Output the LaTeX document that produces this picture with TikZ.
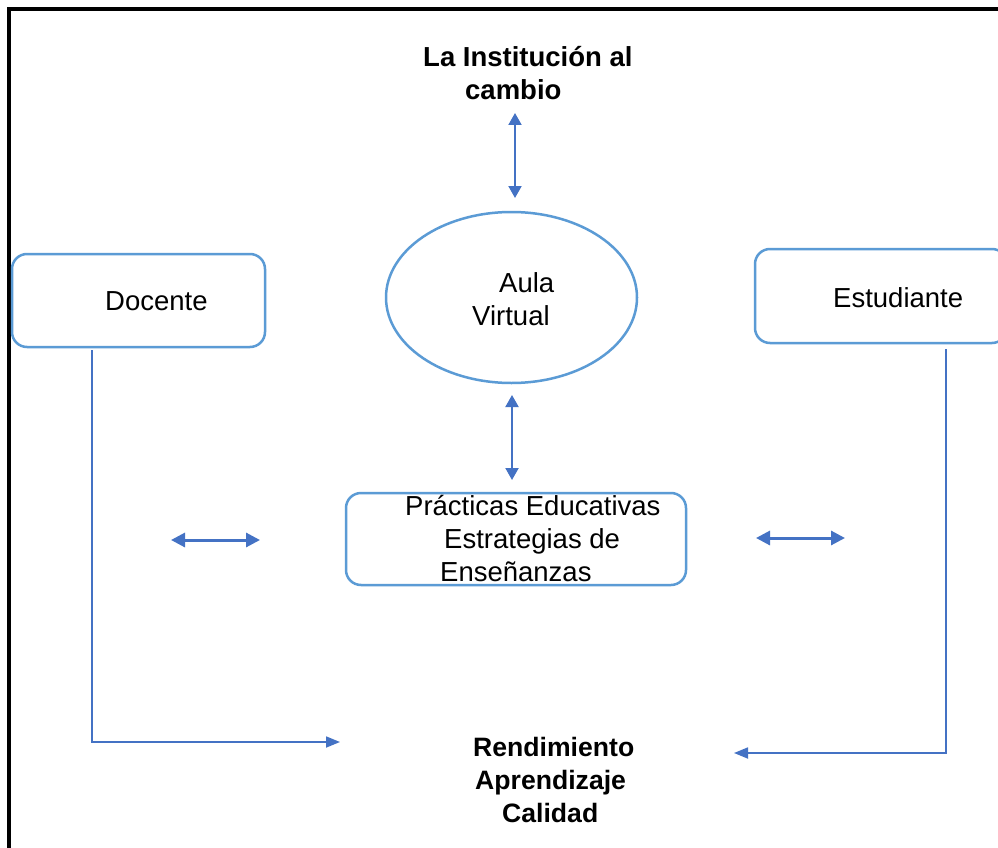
\documentclass[tikz,border=0pt]{standalone}
\usepackage{fontspec}
\setmainfont{Liberation Sans}
\usetikzlibrary{arrows.meta,shapes.geometric}
\definecolor{boxblue}{HTML}{5B9BD5}
\definecolor{arrblue}{HTML}{4472C4}
\begin{document}
\begin{tikzpicture}[x=1pt,y=-1pt,
  txt/.style={font=\fontsize{27.5}{33}\selectfont, inner sep=0pt, anchor=base west},
  btxt/.style={txt, font=\fontsize{27.5}{33}\selectfont\bfseries},
  roundbox/.style={draw=boxblue, line width=2.5pt, rounded corners=15pt, inner sep=0pt},
  dbl/.style={draw=arrblue, line width=3pt, {Triangle[length=14pt,width=14pt]}-{Triangle[length=14pt,width=14pt]}},
  vdbl/.style={draw=arrblue, line width=2pt, {Triangle[length=12pt,width=13pt]}-{Triangle[length=12pt,width=13pt]}},
  conn/.style={draw=arrblue, line width=1.8pt, -{Triangle[length=14pt,width=11pt]}}
]
\clip (0,0) rectangle (998,848);
\fill[white] (0,0) rectangle (998,848);
% frame
\draw[line width=3.6pt] (9,860) -- (9,9.3) -- (1005,9.3);
% boxes
\node[roundbox, minimum width=253pt, minimum height=93pt] (doc) at (138.5,300.5) {};
\node[roundbox, minimum width=252pt, minimum height=94pt] (est) at (881,296) {};
\node[draw=boxblue, line width=2.5pt, ellipse, inner sep=0pt, minimum width=251pt, minimum height=171pt] (aula) at (511.5,297.5) {};
\node[roundbox, minimum width=340pt, minimum height=92pt] (prac) at (516,539) {};
% texts
\node[txt] (doctxt) at (105,310) {Docente};
\node[txt] (esttxt) at (833,307) {Estudiante};
\node[txt] (aula1) at (499,292) {Aula};
\node[txt] (aula2) at (472,325) {Virtual};
\node[txt] (prac1) at (405,515) {Prácticas Educativas};
\node[txt] (prac2) at (444,548) {Estrategias de};
\node[txt] (prac3) at (440,581) {Enseñanzas};
\node[btxt] (inst1) at (423,66.7) {La Institución al};
\node[btxt] (inst2) at (465,99.3) {cambio};
\node[btxt, font=\fontsize{26.6}{33}\selectfont\bfseries] (rend1) at (473,756.7) {Rendimiento};
\node[btxt, font=\fontsize{26.6}{33}\selectfont\bfseries] (rend2) at (475,789.5) {Aprendizaje};
\node[btxt, font=\fontsize{26.6}{33}\selectfont\bfseries] (rend3) at (502,822.3) {Calidad};
% arrows
\coordinate (t1) at (515,113);
\coordinate (t2) at (515,198);
\draw[vdbl] (t1) -- (t2);
\coordinate (m1) at (512,395);
\coordinate (m2) at (512,480);
\draw[vdbl] (m1) -- (m2);
\coordinate (l1) at (171,540);
\coordinate (l2) at (260,540);
\draw[dbl] (l1) -- (l2);
\coordinate (r1) at (756,538);
\coordinate (r2) at (845,538);
\draw[dbl] (r1) -- (r2);
% connectors
\coordinate (dstart) at (92,350);
\coordinate (dend) at (340,742);
\draw[conn] (dstart) |- (dend);
\coordinate (estart) at (946,349);
\coordinate (eend) at (734,753);
\draw[conn] (estart) |- (eend);
\end{tikzpicture}
\end{document}
